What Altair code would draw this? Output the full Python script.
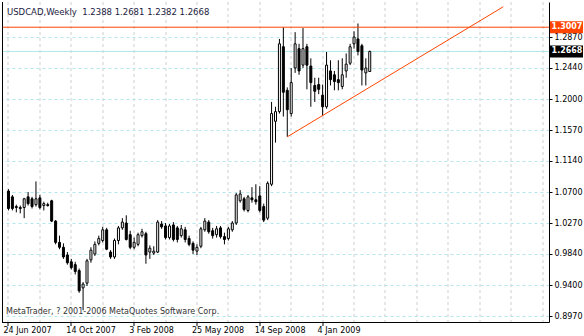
import json
import altair as alt
import pandas as pd

# ---- data (weekly USDCAD bars, 24 Jun 2007 onward) ----
opens = [
    1.0717, 1.0636, 1.0500, 1.0487, 1.0487, 1.0636, 1.0609, 1.0527, 1.0622, 1.0514,
    1.0527, 1.0581, 1.0297, 0.9999, 0.9931, 0.9823, 0.9728, 0.9688, 0.9606, 0.9363,
    0.9430, 0.9755, 0.9837, 0.9986, 1.0026, 1.0175, 0.9864, 0.9796, 1.0026, 1.0202,
    1.0270, 1.0107, 0.9931, 0.9972, 1.0094, 1.0121, 0.9864, 0.9850, 0.9864, 1.0256,
    1.0229, 1.0067, 1.0243, 1.0202, 1.0094, 1.0175, 1.0053, 0.9986, 0.9877, 0.9945,
    1.0175, 1.0283, 1.0162, 1.0107, 1.0202, 1.0080, 1.0053, 1.0175, 1.0270, 1.0581,
    1.0609, 1.0446, 1.0622, 1.0595, 1.0649, 1.0500, 1.0338, 1.0812, 1.1692, 1.1827,
    1.2734, 1.2125, 1.1800, 1.2437, 1.2707, 1.2477, 1.2734, 1.2464, 1.2193, 1.2206,
    1.2057, 1.1895, 1.2396, 1.2342, 1.2274, 1.2179, 1.2396, 1.2504, 1.2775, 1.2843,
    1.2748, 1.2369, 1.2388]
highs = [
    1.0744, 1.0663, 1.0527, 1.0514, 1.0622, 1.0703, 1.0636, 1.0852, 1.0663, 1.0568,
    1.0554, 1.0595, 1.0311, 1.0094, 0.9986, 0.9864, 0.9769, 0.9728, 0.9634, 0.9444,
    0.9769, 0.9931, 1.0013, 1.0094, 1.0216, 1.0202, 0.9891, 1.0053, 1.0229, 1.0338,
    1.0378, 1.0162, 1.0067, 1.0135, 1.0189, 1.0148, 0.9958, 0.9945, 1.0311, 1.0297,
    1.0270, 1.0256, 1.0283, 1.0229, 1.0243, 1.0216, 1.0094, 1.0013, 0.9972, 1.0216,
    1.0338, 1.0311, 1.0202, 1.0229, 1.0229, 1.0135, 1.0216, 1.0297, 1.0690, 1.0730,
    1.0636, 1.0663, 1.0771, 1.0812, 1.0785, 1.0541, 1.0852, 1.1963, 1.1895, 1.2843,
    1.3007, 1.2166, 1.2437, 1.2938, 1.2775, 1.2995, 1.2775, 1.2572, 1.2301, 1.2301,
    1.2206, 1.2667, 1.2545, 1.2396, 1.2545, 1.2572, 1.2640, 1.2775, 1.2951, 1.3059,
    1.2775, 1.2572, 1.2681]
lows = [
    1.0446, 1.0446, 1.0419, 1.0405, 1.0338, 1.0514, 1.0473, 1.0500, 1.0460, 1.0446,
    1.0500, 1.0283, 0.9972, 0.9904, 0.9769, 0.9688, 0.9620, 0.9552, 0.9295, 0.9051,
    0.9390, 0.9715, 0.9810, 0.9958, 0.9999, 0.9891, 0.9769, 0.9769, 0.9972, 1.0175,
    1.0026, 0.9904, 0.9904, 0.9945, 1.0067, 0.9701, 0.9769, 0.9823, 0.9850, 1.0189,
    1.0040, 1.0040, 1.0013, 0.9999, 1.0067, 0.9999, 0.9945, 0.9837, 0.9823, 0.9918,
    1.0148, 1.0121, 1.0053, 1.0067, 1.0053, 0.9972, 1.0026, 1.0148, 1.0243, 1.0554,
    1.0432, 1.0419, 1.0554, 1.0527, 1.0419, 1.0283, 1.0311, 1.0785, 1.1394, 1.1800,
    1.1759, 1.1475, 1.1759, 1.2369, 1.2342, 1.2437, 1.2139, 1.1895, 1.1963, 1.2071,
    1.1765, 1.1868, 1.2193, 1.2125, 1.2125, 1.2139, 1.2301, 1.2477, 1.2707, 1.2613,
    1.2193, 1.2193, 1.2382]
closes = [
    1.0473, 1.0473, 1.0487, 1.0473, 1.0609, 1.0541, 1.0500, 1.0609, 1.0487, 1.0541,
    1.0514, 1.0297, 0.9999, 0.9931, 0.9796, 0.9715, 0.9647, 0.9593, 0.9322, 0.9417,
    0.9742, 0.9891, 0.9972, 1.0053, 1.0175, 0.9904, 0.9796, 1.0026, 1.0202, 1.0283,
    1.0040, 0.9931, 0.9999, 1.0107, 1.0148, 0.9823, 0.9918, 0.9877, 1.0283, 1.0216,
    1.0067, 1.0229, 1.0040, 1.0040, 1.0189, 1.0040, 0.9972, 0.9891, 0.9931, 1.0189,
    1.0297, 1.0148, 1.0094, 1.0189, 1.0080, 1.0040, 1.0189, 1.0270, 1.0663, 1.0676,
    1.0460, 1.0636, 1.0595, 1.0568, 1.0446, 1.0311, 1.0825, 1.1800, 1.1827, 1.2775,
    1.2098, 1.1854, 1.2233, 1.2775, 1.2396, 1.2707, 1.2477, 1.2233, 1.2112, 1.2139,
    1.1895, 1.2477, 1.2274, 1.2247, 1.2233, 1.2342, 1.2491, 1.2734, 1.2870, 1.2667,
    1.2409, 1.2437, 1.2668]

date_labels = ["24 Jun 2007", "14 Oct 2007", "3 Feb 2008", "25 May 2008",
               "14 Sep 2008", "4 Jan 2009"]
price_ticks = [0.8970, 0.9400, 0.9840, 1.0270, 1.0700, 1.1140, 1.1570,
               1.2000, 1.2440, 1.2870]
resistance = 1.3007
trend_bar = [71, 126]
trend_price = [1.1475, 1.3293]

df = pd.DataFrame({"i": list(range(len(opens))), "open": opens, "high": highs,
                   "low": lows, "close": closes})

W, H = 547, 320
FONT = "DejaVu Sans"
xs = alt.Scale(domain=[-0.375, 136.375], nice=False, zero=False)
ys = alt.Scale(domain=[0.89565, 1.32896], nice=False, zero=False)

label_arr = json.dumps(date_labels).replace('"', "'")
last_lab = 16 * (len(date_labels) - 1)
x_axis = alt.Axis(
    values=list(range(0, 137, 8)),
    labelExpr=f"(datum.value % 16 == 0 && datum.value <= {last_lab}) ? {label_arr}[datum.value/16] : ''",
    labelAlign="left", labelBaseline="top", labelPadding=1, labelOffset=-5,
    labelFont=FONT, labelFontSize=8, labelColor="black",
    labelOverlap=False, labelFlush=False, labelBound=False,
    tickSize=4, tickColor="black",
    tickOpacity={"condition": {"test": f"datum.value % 16 == 0 && datum.value <= {last_lab}", "value": 1}, "value": 0},
    domain=False, grid=True, gridColor="#cfcfcf", gridDash=[3, 3],
    translate=0, title=None)
y_axis = alt.Axis(
    orient="right", values=price_ticks, format=".4f",
    labelFont=FONT, labelFontSize=8, labelColor="black", labelPadding=2,
    labelOverlap=False, labelFlush=False, labelBound=False,
    tickSize=3, tickColor="black", domainColor="black",
    grid=True, gridColor="#b5e6ec", gridDash=[3, 3], title=None)

X = alt.X("i:Q", scale=xs, axis=x_axis)

wick = alt.Chart(df).mark_rule(color="black", strokeWidth=1).encode(
    x=X, y=alt.Y("low:Q", scale=ys, axis=y_axis), y2="high:Q")

body = alt.Chart(df).mark_bar(size=2, stroke="black", strokeWidth=1).encode(
    x=X, y=alt.Y("open:Q", scale=ys, axis=y_axis), y2="close:Q",
    fill=alt.condition("datum.close >= datum.open", alt.value("white"), alt.value("black")))

res_df = pd.DataFrame({"p": [resistance], "t": [f"{resistance:.4f}"]})
cur_df = pd.DataFrame({"p": [closes[-1]], "t": [f"{closes[-1]:.4f}"]})
trend_df = pd.DataFrame({"i": trend_bar, "p": trend_price})

res_line = alt.Chart(res_df).mark_rule(color="#ff4500", strokeWidth=1).encode(
    y=alt.Y("p:Q", scale=ys, axis=y_axis))
cur_line = alt.Chart(cur_df).mark_rule(color="#aee8ee", strokeWidth=1).encode(
    y=alt.Y("p:Q", scale=ys, axis=y_axis))
trend = alt.Chart(trend_df).mark_line(color="#ff4500", strokeWidth=1, clip=True).encode(
    x=X, y=alt.Y("p:Q", scale=ys, axis=y_axis))

def tag(d, color):
    box = alt.Chart(d).mark_bar(orient="horizontal", size=12, color=color).encode(
        x=alt.value(W + 1), x2=alt.value(W + 34), y=alt.Y("p:Q", scale=ys, axis=y_axis))
    txt = alt.Chart(d).mark_text(color="white", font=FONT, fontSize=8, fontWeight="bold",
                                 align="center", baseline="middle").encode(
        x=alt.value(W + 18), y=alt.Y("p:Q", scale=ys, axis=y_axis), text="t:N")
    return box + txt

left_border = alt.Chart(res_df).mark_rule(color="black").encode(
    x=alt.value(0.5), y=alt.value(0), y2=alt.value(H + 0.5))
bottom_border = alt.Chart(res_df).mark_rule(color="black").encode(
    x=alt.value(0), x2=alt.value(W + 0.5), y=alt.value(H + 0.5))

header_txt = "USDCAD,Weekly\u00a0 " + " ".join(f"{v:.4f}" for v in
                                               (opens[-1], highs[-1], lows[-1], closes[-1]))
header = alt.Chart(res_df).mark_text(font=FONT, fontSize=8.5, color="#1a1a40",
                                     align="left", baseline="alphabetic").encode(
    x=alt.value(5), y=alt.value(13), text=alt.value(header_txt))
copyright_ = alt.Chart(res_df).mark_text(font=FONT, fontSize=8, color="#333333",
                                         align="left", baseline="alphabetic").encode(
    x=alt.value(4), y=alt.value(312),
    text=alt.value("MetaTrader, ? 2001-2006 MetaQuotes Software Corp."))

chart = alt.layer(
    wick, cur_line, res_line, trend, body, left_border, bottom_border,
    tag(res_df, "#ff4500"), tag(cur_df, "black"), header, copyright_
).properties(
    width=W, height=H, autosize=alt.AutoSizeParams(type="none"),
    padding={"left": 2, "top": 2, "right": 35, "bottom": 14},
    background="white"
).configure_view(stroke=None).configure_axis(labelOverlap=False)

chart.save("out.html", embed_options={"renderer": "svg", "actions": False})
